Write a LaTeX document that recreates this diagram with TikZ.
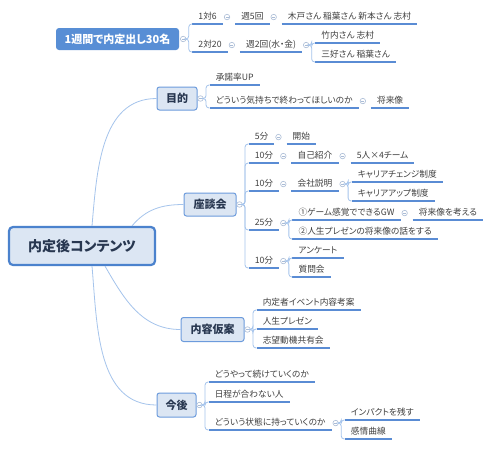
\documentclass[tikz,border=0pt]{standalone}
\usepackage{fontspec}
\setmainfont{Noto Sans CJK JP}[RawFeature=+palt]
\usetikzlibrary{calc}
\definecolor{txtc}{RGB}{64,64,64}
\definecolor{ulc}{RGB}{90,140,212}
\definecolor{connc}{RGB}{165,196,236}
\definecolor{togc}{RGB}{170,188,214}
\definecolor{boxfill}{RGB}{220,230,243}
\definecolor{boxdraw}{RGB}{108,155,220}
\definecolor{boxtext}{RGB}{40,55,80}
\definecolor{rootdraw}{RGB}{75,130,205}
\definecolor{bluefill}{RGB}{88,142,213}
\tikzset{
  topic/.style={font=\fontsize{8.7}{10}\selectfont, text=txtc, inner xsep=6pt, inner ysep=2.5pt, text height=7pt, text depth=1.5pt, anchor=south west},
  tog/.style={circle, draw=togc, fill=white, line width=0.6pt, minimum size=5.5pt, inner sep=0pt,
    path picture={\draw[togc, line width=0.6pt] ([xshift=-1.5pt]path picture bounding box.center) -- ([xshift=1.5pt]path picture bounding box.center);}},
  uline/.style={draw=ulc, line width=1.3pt},
  conn/.style={draw=connc, line width=0.8pt},
  branch/.style={draw=boxdraw, fill=boxfill, line width=1pt, rounded corners=2.5pt, text=boxtext, font=\fontsize{11}{13}\selectfont\bfseries, inner sep=0pt},
  rootbox/.style={draw=rootdraw, fill=boxfill, line width=2.2pt, rounded corners=4pt, text=boxtext, font=\fontsize{14}{16}\selectfont\bfseries, inner sep=0pt, minimum width=146pt, minimum height=38pt},
  floatbox/.style={fill=bluefill, rounded corners=3pt, text=white, font=\fontsize{11}{13}\selectfont\bfseries, inner sep=0pt, minimum width=123pt, minimum height=22pt},
}
\begin{document}
\begin{tikzpicture}[x=1pt,y=-1pt]
\useasboundingbox[fill=white] (0,0) rectangle (488,448);

% root
\node[rootbox] (root) at (82,246) {内定後コンテンツ};

% floating topic
\node[floatbox] (b0) at (117.5,39) {1週間で内定出し30名};
\node[tog] (c0) at ([xshift=4pt]b0.east) {};
\node[topic] (t11) at ($(c0.east |- 0,24)+(6,0)$) {1対6};
\node[tog] (c11) at ([xshift=4pt]t11.east) {};
\node[topic,anchor=west] (t12) at ([xshift=5pt]c11.east) {週5回};
\node[tog] (c12) at ([xshift=4pt]t12.east) {};
\node[topic,anchor=west] (t13) at ([xshift=5pt]c12.east) {木戸さん 稲葉さん 新本さん 志村};
\node[topic] (t21) at ($(c0.east |- 0,52)+(6,0)$) {2対20};
\node[tog] (c21) at ([xshift=4pt]t21.east) {};
\node[topic,anchor=west] (t22) at ([xshift=5pt]c21.east) {週2回(水・金)};
\node[tog] (c22) at ([xshift=4pt]t22.east) {};
\node[topic] (t23) at ($(c22.east |- 0,43)+(6,0)$) {竹内さん 志村};
\node[topic] (t24) at ($(c22.east |- 0,62)+(6,0)$) {三好さん 稲葉さん};

% 目的
\node[branch, minimum width=40pt, minimum height=23pt] (m1) at (177,98.5) {目的};
\node[tog] (cm) at ([xshift=3pt]m1.east) {};
\node[topic] (t31) at ($(cm.east |- 0,85)+(6,0)$) {承諾率UP};
\node[topic] (t32) at ($(cm.east |- 0,108)+(6,0)$) {どういう気持ちで終わってほしいのか};
\node[tog] (c32) at ([xshift=4pt]t32.east) {};
\node[topic,anchor=west] (t33) at ([xshift=5pt]c32.east) {将来像};

% 座談会
\node[branch, minimum width=52pt, minimum height=23pt] (z) at (210,204.5) {座談会};
\node[tog] (cz) at ([xshift=3pt]z.east) {};
\node[topic] (t41) at ($(cz.east |- 0,144)+(6,0)$) {5分};
\node[tog] (c41) at ([xshift=4pt]t41.east) {};
\node[topic,anchor=west] (t42) at ([xshift=5pt]c41.east) {開始};
\node[topic] (t43) at ($(cz.east |- 0,163)+(6,0)$) {10分};
\node[tog] (c43) at ([xshift=4pt]t43.east) {};
\node[topic,anchor=west] (t44) at ([xshift=5pt]c43.east) {自己紹介};
\node[tog] (c44) at ([xshift=4pt]t44.east) {};
\node[topic,anchor=west] (t45) at ([xshift=5pt]c44.east) {5人×4チーム};
\node[topic] (t46) at ($(cz.east |- 0,191)+(6,0)$) {10分};
\node[tog] (c46) at ([xshift=4pt]t46.east) {};
\node[topic,anchor=west] (t47) at ([xshift=5pt]c46.east) {会社説明};
\node[tog] (c47) at ([xshift=4pt]t47.east) {};
\node[topic] (t48) at ($(c47.east |- 0,182)+(6,0)$) {キャリアチェンジ制度};
\node[topic] (t49) at ($(c47.east |- 0,201)+(6,0)$) {キャリアアップ制度};
\node[topic] (t50) at ($(cz.east |- 0,230)+(6,0)$) {25分};
\node[tog] (c50) at ([xshift=4pt]t50.east) {};
\node[topic] (t51) at ($(c50.east |- 0,220)+(6,0)$) {①ゲーム感覚でできるGW};
\node[tog] (c51) at ([xshift=4pt]t51.east) {};
\node[topic,anchor=west] (t52) at ([xshift=5pt]c51.east) {将来像を考える};
\node[topic] (t53) at ($(c50.east |- 0,239)+(6,0)$) {②人生プレゼンの将来像の話をする};
\node[topic] (t54) at ($(cz.east |- 0,268)+(6,0)$) {10分};
\node[tog] (c54) at ([xshift=4pt]t54.east) {};
\node[topic] (t55) at ($(c54.east |- 0,258)+(6,0)$) {アンケート};
\node[topic] (t56) at ($(c54.east |- 0,277)+(6,0)$) {質問会};

% 内容仮案
\node[branch, minimum width=63pt, minimum height=24pt] (n) at (212.5,329.5) {内容仮案};
\node[tog] (cn) at ([xshift=3pt]n.east) {};
\node[topic] (t61) at ($(cn.east |- 0,310)+(6,0)$) {内定者イベント内容考案};
\node[topic] (t62) at ($(cn.east |- 0,329)+(6,0)$) {人生プレゼン};
\node[topic] (t63) at ($(cn.east |- 0,348)+(6,0)$) {志望動機共有会};

% 今後
\node[branch, minimum width=39pt, minimum height=24pt] (k) at (176.5,405) {今後};
\node[tog] (ck) at ([xshift=3pt]k.east) {};
\node[topic] (t71) at ($(ck.east |- 0,382)+(6,0)$) {どうやって続けていくのか};
\node[topic] (t72) at ($(ck.east |- 0,402)+(6,0)$) {日程が合わない人};
\node[topic] (t73) at ($(ck.east |- 0,430)+(6,0)$) {どういう状態に持っていくのか};
\node[tog] (c73) at ([xshift=4pt]t73.east) {};
\node[topic] (t74) at ($(c73.east |- 0,420)+(6,0)$) {インパクトを残す};
\node[topic] (t75) at ($(c73.east |- 0,439)+(6,0)$) {感情曲線};

% underlines
\foreach \n in {t11,t12,t13,t21,t22,t23,t24,t31,t32,t33,t41,t42,t43,t44,t45,t46,t47,t48,t49,t50,t51,t52,t53,t54,t55,t56,t61,t62,t63,t71,t72,t73,t74,t75}
  \draw[uline] (\n.south west) -- (\n.south east);

% elbow connectors
\foreach \p/\c in {c0/t11,c0/t21,c22/t23,c22/t24,cm/t31,cm/t32,cz/t41,cz/t43,cz/t46,cz/t50,cz/t54,c47/t48,c47/t49,c50/t51,c50/t53,c54/t55,c54/t56,cn/t61,cn/t62,cn/t63,ck/t71,ck/t72,ck/t73,c73/t74,c73/t75}
  \draw[conn, rounded corners=3pt] (\p.east) -- ++(2.5,0) |- (\c.south west);

% root curves
\draw[conn] ([xshift=10pt]root.north) to[out=85,in=180] (m1.west);
\draw[conn] ([xshift=50pt]root.north) to[out=50,in=180] (z.west);
\draw[conn] ([xshift=23pt]root.south) to[out=-60,in=180] (n.west);
\draw[conn] ([xshift=10pt]root.south) to[out=-85,in=180] (k.west);
\end{tikzpicture}
\end{document}
